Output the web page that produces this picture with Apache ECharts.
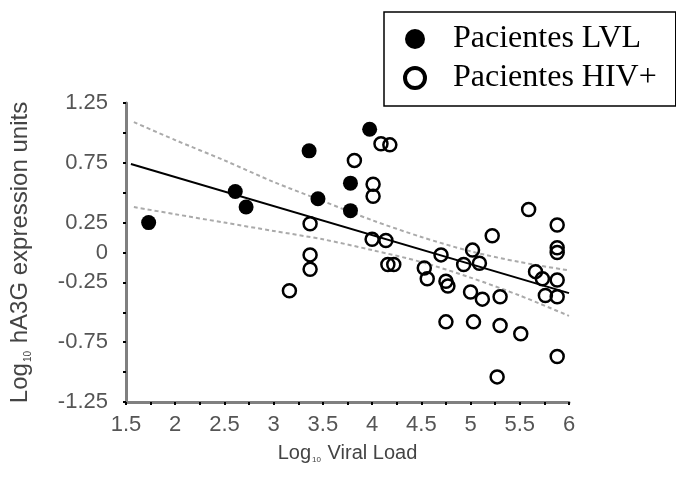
<!DOCTYPE html>
<html>
<head>
<meta charset="utf-8">
<script src="https://cdn.jsdelivr.net/npm/echarts@6/dist/echarts.min.js"></script>
<style>
html,body{margin:0;padding:0;background:#fff;}
#chart{width:676px;height:486px;}
</style>
</head>
<body>
<div id="chart"></div>
<script>
// LVL patients (filled)
const lvlX = [1.73, 2.61, 2.72, 3.36, 3.45, 3.78, 3.78, 3.975];
const lvlY = [0.25, 0.51, 0.38, 0.85, 0.45, 0.58, 0.35, 1.03];
// HIV+ patients (open)
const hivX = [3.16, 3.37, 3.37, 3.37, 3.82, 4.01, 4.01, 4.09, 4.18, 4.00, 4.14, 4.16, 4.22, 4.53, 4.56, 4.70, 4.75, 4.77, 4.75, 4.93, 5.02, 5.09, 5.00, 5.12, 5.03, 5.22, 5.30, 5.30, 5.27, 5.51, 5.59, 5.66, 5.73, 5.76, 5.88, 5.88, 5.88, 5.88, 5.88, 5.88];
const hivY = [-0.32, 0.24, -0.02, -0.14, 0.77, 0.57, 0.47, 0.91, 0.90, 0.11, 0.10, -0.10, -0.10, -0.13, -0.22, -0.02, -0.24, -0.28, -0.58, -0.10, 0.02, -0.09, -0.33, -0.39, -0.58, 0.14, -0.37, -0.61, -1.04, -0.68, 0.36, -0.16, -0.22, -0.36, 0.23, 0.04, 0.00, -0.23, -0.37, -0.87];
// Regression line and confidence band
const fitX = [1.55, 6.0];
const fitY = [0.74, -0.34];
const ciX = [1.58, 2, 2.5, 3, 3.5, 4, 4.5, 5, 5.5, 6];
const ciUpper = [1.09, 0.94, 0.77, 0.59, 0.43, 0.27, 0.13, 0.01, -0.08, -0.15];
const ciLower = [0.38, 0.32, 0.25, 0.18, 0.11, 0.02, -0.08, -0.21, -0.36, -0.53];
// Axis labels
const yTickLabels = [1.25, 0.75, 0.25, 0, -0.25, -0.75, -1.25];
const xTickLabels = [1.5, 2, 2.5, 3, 3.5, 4, 4.5, 5, 5.5, 6];
const seriesNames = ['Pacientes LVL', 'Pacientes HIV+'];

const zip = (a, b) => a.map((v, i) => [v, b[i]]);
const near = (arr, v) => arr.some(t => Math.abs(t - v) < 1e-6);

const chart = echarts.init(document.getElementById('chart'));
const sans = 'Liberation Sans, Arial, sans-serif';
chart.setOption({
  animation: false,
  backgroundColor: '#fff',
  grid: { left: 123, right: 107, top: 103, bottom: 84, containLabel: false },
  legend: {
    orient: 'vertical',
    left: 384, top: 12,
    padding: [11, 19, 12, 19],
    borderColor: '#000', borderWidth: 1.5,
    itemWidth: 20, itemHeight: 20, itemGap: 7,
    textStyle: { fontFamily: 'Liberation Serif, Times New Roman, serif', fontSize: 32, color: '#000', lineHeight: 32, padding: [0, 0, 0, 23] },
    data: [
      { name: seriesNames[0], icon: 'circle', itemStyle: { color: '#000', borderWidth: 0, opacity: 1 } },
      { name: seriesNames[1], icon: 'circle', itemStyle: { color: '#fff', borderColor: '#000', borderWidth: 4, opacity: 1 } }
    ]
  },
  xAxis: {
    type: 'value', min: 1.5, max: 6, interval: 0.25,
    splitLine: { show: false },
    axisLine: { show: true, onZero: false, lineStyle: { color: '#808080', width: 3 } },
    axisTick: { show: true, length: 3, lineStyle: { color: '#000', width: 2 } },
    axisLabel: {
      margin: 12, color: '#555', fontFamily: sans, fontSize: 22,
      formatter: v => near(xTickLabels, v) ? String(v) : ''
    },
    name: '{a|Log}{b|10}{a| Viral Load}',
    nameLocation: 'middle', nameGap: 40,
    nameTextStyle: {
      rich: {
        a: { fontFamily: sans, fontSize: 20, color: '#444' },
        b: { fontFamily: sans, fontSize: 8, color: '#444', padding: [14, 1, 0, 1] }
      }
    }
  },
  yAxis: {
    type: 'value', min: -1.25, max: 1.25, interval: 0.25,
    splitLine: { show: false },
    axisLine: { show: true, onZero: false, lineStyle: { color: '#808080', width: 3 } },
    axisTick: { show: true, length: 3, lineStyle: { color: '#000', width: 2 } },
    axisLabel: {
      margin: 18, color: '#555', fontFamily: sans, fontSize: 22,
      formatter: v => near(yTickLabels, v) ? String(v) : ''
    },
    name: '{a|Log}{b|10}{a| hA3G expression units}',
    nameLocation: 'middle', nameGap: 93,
    nameTextStyle: {
      rich: {
        a: { fontFamily: sans, fontSize: 24, color: '#444' },
        b: { fontFamily: sans, fontSize: 10, color: '#444', padding: [16, 1, 0, 1] }
      }
    }
  },
  series: [
    {
      name: 'CI upper', type: 'line', data: zip(ciX, ciUpper), smooth: 0.3,
      showSymbol: false, silent: true, z: 1,
      lineStyle: { color: '#aaa', width: 2, type: [4, 3] }
    },
    {
      name: 'CI lower', type: 'line', data: zip(ciX, ciLower), smooth: 0.3,
      showSymbol: false, silent: true, z: 1,
      lineStyle: { color: '#aaa', width: 2, type: [4, 3] }
    },
    {
      name: 'Fit', type: 'line', data: zip(fitX, fitY),
      showSymbol: false, silent: true, z: 2,
      lineStyle: { color: '#000', width: 2 }
    },
    {
      name: seriesNames[0], type: 'scatter', data: zip(lvlX, lvlY),
      symbol: 'circle', symbolSize: 15, z: 3,
      itemStyle: { color: '#000', opacity: 1 }
    },
    {
      name: seriesNames[1], type: 'scatter', data: zip(hivX, hivY),
      symbol: 'circle', symbolSize: 13, z: 3,
      itemStyle: { color: 'transparent', borderColor: '#000', borderWidth: 2.5, opacity: 1 }
    }
  ]
});
</script>
</body>
</html>
